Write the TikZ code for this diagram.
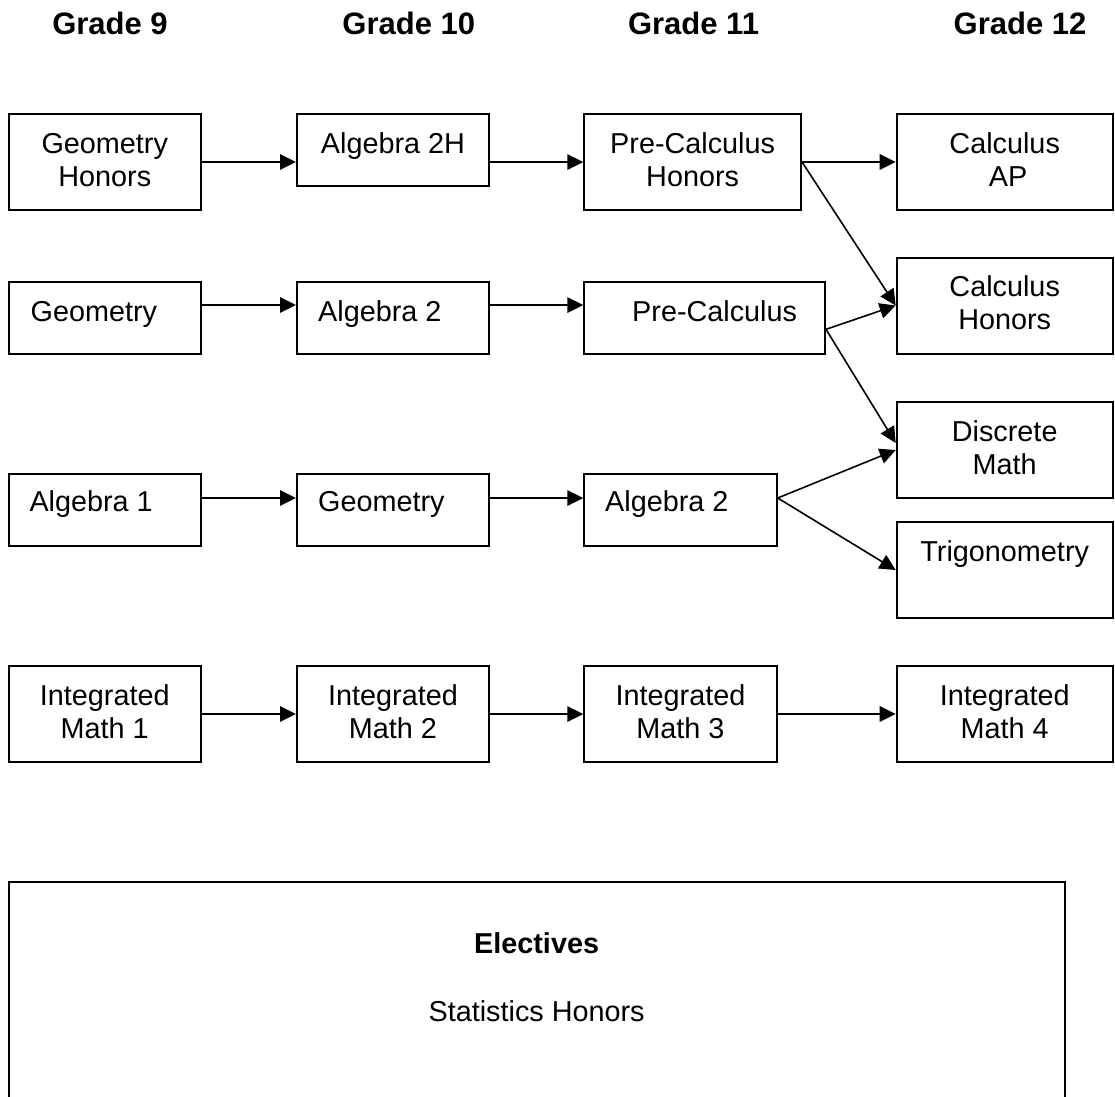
\documentclass[tikz,border=0pt]{standalone}
\usepackage{fontspec}
\setmainfont{Liberation Sans}
\usetikzlibrary{arrows.meta}
\tikzset{
  box/.style={draw, line width=2pt, inner sep=0pt, rectangle},
  txt/.style={anchor=base, inner sep=0pt, font=\fontsize{28.8}{33.1}\selectfont},
  txtl/.style={txt, anchor=base west},
  head/.style={anchor=base, inner sep=0pt, font=\fontsize{31}{36}\selectfont\bfseries},
  arr/.style={line width=1.6pt, -{Triangle[length=16pt,width=15.5pt]}},
}
\begin{document}
\begin{tikzpicture}[x=1pt,y=-1pt]
\useasboundingbox (0,0) rectangle (1115,1096);
\clip (0,0) rectangle (1115,1096);
\fill[white] (0,0) rectangle (1115,1096);

% headings
\node[head] (h9)  at (110,34.3)  {Grade 9};
\node[head] (h10) at (408.8,34.3) {Grade 10};
\node[head] (h11) at (693.5,34.3) {Grade 11};
\node[head] (h12) at (1020,34.3) {Grade 12};

% row 1
\node[box, minimum width=192.5, minimum height=96] (gh)  at (104.75,162) {};
\node[box, minimum width=192,   minimum height=72] (a2h) at (393,150) {};
\node[box, minimum width=216.7, minimum height=96] (pch) at (692.65,162) {};
\node[box, minimum width=216,   minimum height=96] (cap) at (1004.7,162) {};
% row 2
\node[box, minimum width=192.5, minimum height=72] (g2)  at (104.75,318) {};
\node[box, minimum width=192,   minimum height=72] (a22) at (393,318) {};
\node[box, minimum width=240.7, minimum height=72] (pc)  at (704.65,318) {};
\node[box, minimum width=216,   minimum height=96] (ch)  at (1004.7,305.5) {};
% row 3
\node[box, minimum width=192.5, minimum height=72] (a1)  at (104.75,510) {};
\node[box, minimum width=192,   minimum height=72] (g3)  at (393,510) {};
\node[box, minimum width=192.4, minimum height=72] (a23) at (680.5,510) {};
\node[box, minimum width=216,   minimum height=96] (dm)  at (1004.7,450) {};
\node[box, minimum width=216,   minimum height=96] (tr)  at (1004.7,570) {};
% row 4
\node[box, minimum width=192.5, minimum height=96] (im1) at (104.75,714) {};
\node[box, minimum width=192,   minimum height=96] (im2) at (393,714) {};
\node[box, minimum width=192.4, minimum height=96] (im3) at (680.5,714) {};
\node[box, minimum width=216,   minimum height=96] (im4) at (1004.7,714) {};
% electives
\node[box, minimum width=1056.2, minimum height=268.3] (el) at (536.6,1015.85) {};

% texts
\node[txt] (tgh1) at (104.75,153.3) {Geometry};
\node[txt] (tgh2) at (104.75,186.3) {Honors};
\node[txt] (ta2h) at (393,153.3) {Algebra 2H};
\node[txt] (tpch1) at (692.65,153.3) {Pre-Calculus};
\node[txt] (tpch2) at (692.65,186.3) {Honors};
\node[txt] (tcap1) at (1004.7,153.3) {Calculus};
\node[txt] (tcap2) at (1008,186.3) {AP};

\node[txtl] (tg2) at (30.4,321.6) {Geometry};
\node[txtl] (ta22) at (318,321.6) {Algebra 2};
\node[txtl] (tpc) at (632,321.6) {Pre-Calculus};
\node[txt] (tch1) at (1004.7,296.8) {Calculus};
\node[txt] (tch2) at (1004.7,329.8) {Honors};

\node[txtl] (ta1) at (29.3,511.7) {Algebra 1};
\node[txtl] (tg3) at (318,511.7) {Geometry};
\node[txtl] (ta23) at (605,511.7) {Algebra 2};
\node[txt] (tdm1) at (1004.7,441.5) {Discrete};
\node[txt] (tdm2) at (1004.7,474.5) {Math};
\node[txt] (ttr) at (1004.7,561.5) {Trigonometry};

\node[txt] (tim1a) at (104.75,705) {Integrated};
\node[txt] (tim1b) at (104.75,738.3) {Math 1};
\node[txt] (tim2a) at (393,705) {Integrated};
\node[txt] (tim2b) at (393,738.3) {Math 2};
\node[txt] (tim3a) at (680.5,705) {Integrated};
\node[txt] (tim3b) at (680.5,738.3) {Math 3};
\node[txt] (tim4a) at (1004.7,705) {Integrated};
\node[txt] (tim4b) at (1004.7,738.3) {Math 4};

\node[txt, font=\fontsize{28.8}{33.1}\selectfont\bfseries] (tel) at (536.6,953) {Electives};
\node[txt] (tst) at (536.6,1021) {Statistics Honors};

% connectors
\coordinate (r2) at (0,305);
\coordinate (r3) at (0,498);
\draw[arr] (gh.east) -- (gh.east -| a2h.west);
\draw[arr] (a2h.east |- gh.east) -- (gh.east -| pch.west);
\draw[arr] (pch.east) -- (cap.west);
\draw[arr] (pch.east) -- (ch.west);

\draw[arr] (g2.east |- r2) -- (a22.west |- r2);
\draw[arr] (a22.east |- r2) -- (pc.west |- r2);
\coordinate (pcout) at ([yshift=-11.3pt]pc.east);
\draw[arr] (pcout) -- (ch.west);
\draw[arr] (pcout) -- ([yshift=7pt]dm.west);

\draw[arr] (a1.east |- r3) -- (g3.west |- r3);
\draw[arr] (g3.east |- r3) -- (a23.west |- r3);
\coordinate (a23out) at (a23.east |- r3);
\draw[arr] (a23out) -- (dm.west);
\draw[arr] (a23out) -- (tr.west);

\draw[arr] (im1.east) -- (im2.west);
\draw[arr] (im2.east) -- (im3.west);
\draw[arr] (im3.east) -- (im4.west);
\end{tikzpicture}
\end{document}
